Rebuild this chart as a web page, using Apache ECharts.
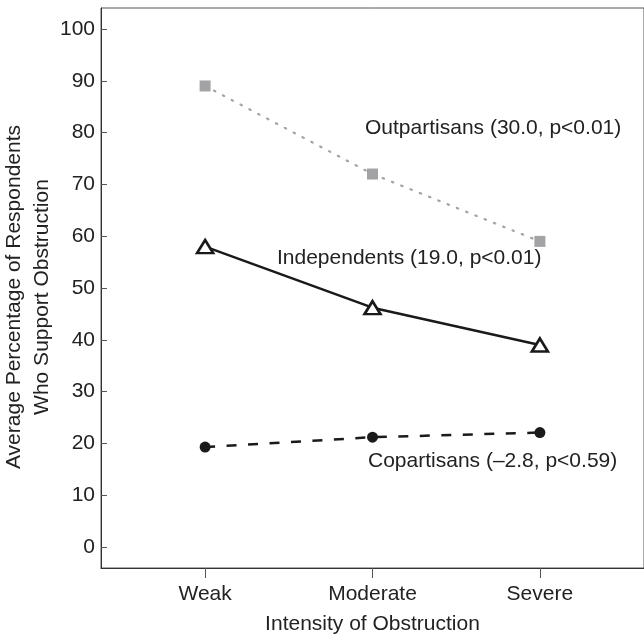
<!DOCTYPE html>
<html>
<head>
<meta charset="utf-8">
<script src="https://cdn.jsdelivr.net/npm/echarts@6/dist/echarts.min.js"></script>
<style>
html,body{margin:0;padding:0;background:#fff;}
#chart{width:644px;height:641px;}
</style>
</head>
<body>
<div id="chart"></div>
<script>
var categories = ['Weak', 'Moderate', 'Severe'];
var categoryPositions = [1, 2, 3];
var outpartisans = [89, 72, 59];
var independents = [58, 46.2, 39];
var copartisans = [19.3, 21.2, 22.1];
var yTicks = [0, 10, 20, 30, 40, 50, 60, 70, 80, 90, 100];
var seriesLabels = [
  'Outpartisans (30.0, p<0.01)',
  'Independents (19.0, p<0.01)',
  'Copartisans (\u20132.8, p<0.59)'
];
var xTitle = 'Intensity of Obstruction';
var yTitle = ['Average Percentage of Respondents', 'Who Support Obstruction'];

function pairs(vals) {
  return vals.map(function (v, i) { return [categoryPositions[i], v]; });
}

var FONT = '"Liberation Sans", Arial, Helvetica, sans-serif';
var chart = echarts.init(document.getElementById('chart'), null, {renderer: 'canvas'});

var option = {
  animation: false,
  backgroundColor: '#ffffff',
  textStyle: {fontFamily: FONT},
  grid: {left: 101, top: 8, right: -8, bottom: 73, show: true, borderColor: '#555', borderWidth: 1, containLabel: false},
  xAxis: {
    type: 'value',
    min: 0.378, max: 3.622,
    splitLine: {show: false},
    axisLine: {show: true, onZero: false, lineStyle: {color: '#333', width: 1}},
    axisTick: {show: true, inside: false, length: 10, lineStyle: {color: '#555', width: 1}, customValues: categoryPositions},
    axisLabel: {
      show: true, margin: 16, fontSize: 21, color: '#222', fontFamily: FONT,
      customValues: categoryPositions,
      formatter: function (v) { var i = categoryPositions.indexOf(Math.round(v)); return i >= 0 ? categories[i] : ''; }
    },
    name: xTitle,
    nameLocation: 'middle',
    nameGap: 46,
    nameTextStyle: {fontSize: 21, color: '#222', fontFamily: FONT, verticalAlign: 'top'}
  },
  yAxis: {
    type: 'value',
    min: -4.05, max: 104.05,
    splitLine: {show: false},
    axisLine: {show: true, onZero: false, lineStyle: {color: '#333', width: 1}},
    axisTick: {show: true, inside: true, length: 6, lineStyle: {color: '#555', width: 1}, customValues: yTicks},
    axisLabel: {show: true, margin: 6, fontSize: 21, color: '#222', fontFamily: FONT, customValues: yTicks}
  },
  series: [
    {
      type: 'line', name: 'Outpartisans', data: pairs(outpartisans),
      symbol: 'rect', symbolSize: 11,
      itemStyle: {color: '#a3a3a6'},
      lineStyle: {color: '#a3a3a6', width: 2.2, type: [1.5, 8.5], cap: 'round'},
      z: 2
    },
    {
      type: 'line', name: 'Independents', data: pairs(independents),
      symbol: 'triangle', symbolSize: [16, 13],
      itemStyle: {color: '#ffffff', borderColor: '#1a1a1a', borderWidth: 2.6},
      lineStyle: {color: '#1a1a1a', width: 2.5, type: 'solid'},
      z: 3
    },
    {
      type: 'line', name: 'Copartisans', data: pairs(copartisans),
      symbol: 'circle', symbolSize: 11,
      itemStyle: {color: '#1a1a1a'},
      lineStyle: {color: '#1a1a1a', width: 2.5, type: [10, 11.5]},
      z: 3
    }
  ],
  graphic: [
    {type: 'text', left: 365, top: 118, style: {text: seriesLabels[0], font: '21px ' + FONT, fill: '#222'}},
    {type: 'text', left: 277, top: 248, style: {text: seriesLabels[1], font: '21px ' + FONT, fill: '#222'}},
    {type: 'text', left: 368, top: 451, style: {text: seriesLabels[2], font: '21px ' + FONT, fill: '#222'}},
    {
      type: 'text', x: 28, y: 297, rotation: Math.PI / 2,
      style: {text: yTitle.join('\n'), font: '21px ' + FONT, fill: '#222', align: 'center', verticalAlign: 'middle', lineHeight: 28}
    }
  ]
};
chart.setOption(option);
</script>
</body>
</html>
